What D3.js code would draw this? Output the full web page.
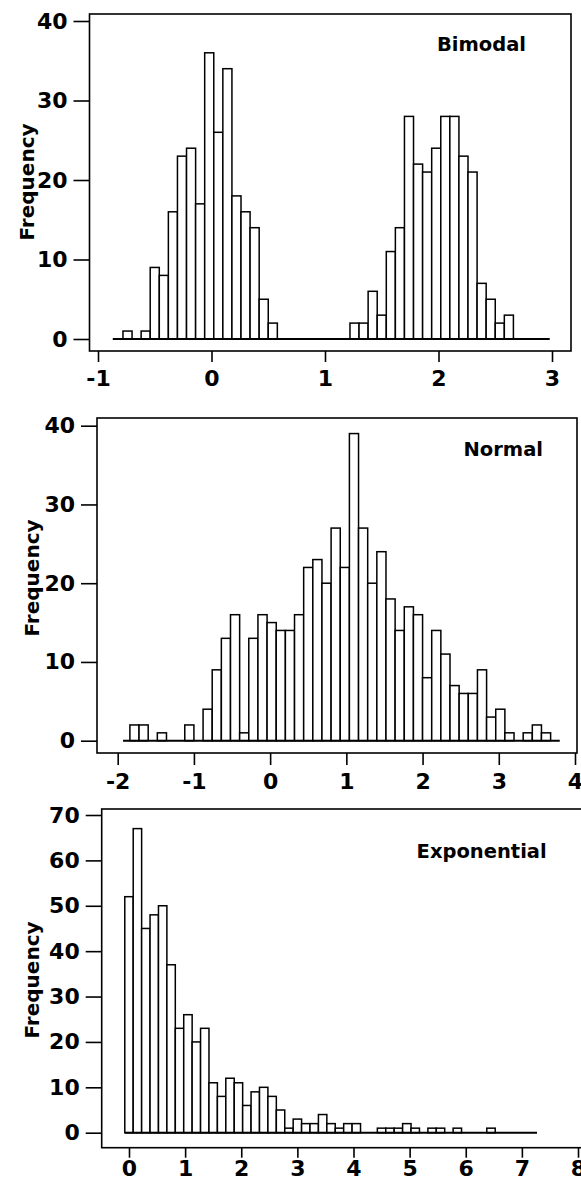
<!DOCTYPE html>
<html>
<head>
<meta charset="utf-8">
<script src="https://cdn.jsdelivr.net/npm/d3@7"></script>
<style>
body { margin: 0; background: #fff; }
</style>
</head>
<body>
<svg id="chart" width="581" height="1184"></svg>
<script>
// ---- data: bin start, bin width, counts per bin ----
var bimodalBinStart = -0.78;
var bimodalBinWidth = 0.08;
var bimodalCounts = [1, 0, 1, 9, 8, 16, 23, 24, 17, 36, 26, 34, 18, 16, 14, 5, 2,
	0, 0, 0, 0, 0, 0, 0, 0,
	2, 2, 6, 3, 11, 14, 28, 22, 21, 24, 28, 28, 23, 21, 7, 5, 2, 3];
var bimodalRange = [-0.87, 2.98];
var bimodalXTicks = [-1, 0, 1, 2, 3];
var bimodalYTicks = [0, 10, 20, 30, 40];

var normalBinStart = -1.84;
var normalBinWidth = 0.12;
var normalCounts = [2, 2, 0, 1, 0, 0, 2, 0, 4, 9, 13, 16, 1, 13, 16, 15, 14, 14, 16, 22, 23, 20, 27, 22,
	39, 27, 20, 24, 18, 14, 17, 16, 8, 14, 11, 7, 6, 6, 9, 3, 4, 1, 0, 1, 2, 1];
var normalRange = [-1.93, 3.8];
var normalXTicks = [-2, -1, 0, 1, 2, 3, 4];
var normalYTicks = [0, 10, 20, 30, 40];

var expBinStart = -0.075;
var expBinWidth = 0.15;
var expCounts = [52, 67, 45, 48, 50, 37, 23, 26, 20, 23, 11, 8, 12, 11, 6, 9, 10, 8, 5, 1,
	3, 2, 2, 4, 2, 1, 2, 2, 0, 0, 1, 1, 1, 2, 1, 0, 1, 1, 0, 1, 0, 0, 0, 1];
var expRange = [-0.075, 7.27];
var expXTicks = [0, 1, 2, 3, 4, 5, 6, 7, 8];
var expYTicks = [0, 10, 20, 30, 40, 50, 60, 70];

var FONT = "DejaVu Sans, sans-serif";
var svg = d3.select("#chart");

function drawPanel(p){
	var x = d3.scaleLinear().domain(p.xDom).range(p.xRng);
	var y = d3.scaleLinear().domain(p.yDom).range(p.yRng);
	var g = svg.append("g");

	// frame
	g.append("rect")
		.attr("x", p.frame[0]).attr("y", p.frame[1])
		.attr("width", p.frame[2] - p.frame[0])
		.attr("height", p.frame[3] - p.frame[1])
		.attr("fill", "none")
		.attr("stroke", "#000")
		.attr("stroke-width", 1.6);

	// bars
	var bins = p.counts.map(function(c, i){
		return {x0: p.start + i * p.width, x1: p.start + (i + 1) * p.width, n: c};
	}).filter(function(d){ return d.n > 0; });

	g.append("g").selectAll("rect")
		.data(bins)
		.enter()
		.append("rect")
		.attr("x", function(d){ return x(d.x0); })
		.attr("width", function(d){ return x(d.x1) - x(d.x0); })
		.attr("y", function(d){ return y(d.n); })
		.attr("height", function(d){ return y(0) - y(d.n); })
		.attr("fill", "#fff")
		.attr("stroke", "#000")
		.attr("stroke-width", 1.5);

	// zero line
	g.append("line")
		.attr("x1", x(p.range[0])).attr("x2", x(p.range[1]))
		.attr("y1", y(0)).attr("y2", y(0))
		.attr("stroke", "#000")
		.attr("stroke-width", 2);

	// axes
	var ya = g.append("g")
		.attr("transform", "translate(" + p.frame[0] + ",0)")
		.call(d3.axisLeft(y).tickValues(p.yTicks).tickSize(16).tickPadding(6)
			.tickFormat(function(d){ return String(d); }));
	var xa = g.append("g")
		.attr("transform", "translate(0," + p.frame[3] + ")")
		.call(d3.axisBottom(x).tickValues(p.xTicks).tickSize(p.xTick[0]).tickPadding(p.xTick[1])
			.tickFormat(function(d){ return String(d); }));
	[ya, xa].forEach(function(a){
		a.select(".domain").remove();
		a.selectAll("line").attr("stroke", "#000").attr("stroke-width", 1.6);
		a.selectAll("text")
			.attr("font-family", FONT)
			.attr("font-weight", "bold")
			.attr("font-size", 22)
			.attr("fill", "#000");
	});

	// y label
	g.append("text")
		.attr("transform", "translate(" + p.ylab[0] + "," + p.ylab[1] + ") rotate(-90)")
		.attr("text-anchor", "middle")
		.attr("font-family", FONT)
		.attr("font-weight", "bold")
		.attr("font-size", 20)
		.text("Frequency");

	// title
	g.append("text")
		.attr("x", p.title[0]).attr("y", p.title[1])
		.attr("text-anchor", "end")
		.attr("font-family", FONT)
		.attr("font-weight", "bold")
		.attr("font-size", 19.5)
		.text(p.name);
}

drawPanel({
	name: "Bimodal", counts: bimodalCounts, start: bimodalBinStart, width: bimodalBinWidth,
	range: bimodalRange, xTicks: bimodalXTicks, yTicks: bimodalYTicks,
	xDom: [-1, 3], xRng: [98, 552], yDom: [0, 40], yRng: [339, 21],
	frame: [89.5, 14, 571, 351], xTick: [11, 8], ylab: [34, 182], title: [526, 51]
});

drawPanel({
	name: "Normal", counts: normalCounts, start: normalBinStart, width: normalBinWidth,
	range: normalRange, xTicks: normalXTicks, yTicks: normalYTicks,
	xDom: [-2, 4], xRng: [117.7, 575], yDom: [0, 40], yRng: [740.7, 425.7],
	frame: [97, 418, 577, 753], xTick: [12, 8], ylab: [39, 578], title: [543, 456]
});

drawPanel({
	name: "Exponential", counts: expCounts, start: expBinStart, width: expBinWidth,
	range: expRange, xTicks: expXTicks, yTicks: expYTicks,
	xDom: [0, 8], xRng: [129, 578], yDom: [0, 70], yRng: [1132.7, 815],
	frame: [101.7, 809, 600, 1147.7], xTick: [10, 3], ylab: [39, 980], title: [546.7, 858]
});
</script>
</body>
</html>
